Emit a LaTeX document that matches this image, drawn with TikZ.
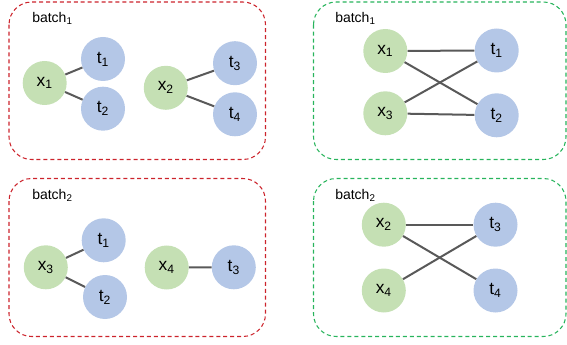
\documentclass[tikz,border=0pt]{standalone}
\usepackage{fontspec}
\setmainfont{Liberation Sans}
\definecolor{xgreen}{RGB}{197,224,180}
\definecolor{tblue}{RGB}{180,199,231}
\definecolor{boxred}{RGB}{204,36,44}
\definecolor{boxgreen}{RGB}{40,180,92}
\definecolor{edgegray}{RGB}{89,89,89}

\begin{document}
\begin{tikzpicture}[x=0.75pt,y=0.75pt,yscale=-1,xscale=1,
  xnode/.style={circle,fill=xgreen,minimum size=33pt,inner sep=0pt,font=\fontsize{13}{15}\selectfont},
  tnode/.style={circle,fill=tblue,minimum size=33pt,inner sep=0pt,font=\fontsize{13}{15}\selectfont},
  link/.style={draw=edgegray,line width=1.5pt},
  redbox/.style={draw=boxred,line width=0.8pt,dash pattern={on 3pt off 2.2pt},rounded corners=17pt},
  greenbox/.style={draw=boxgreen,line width=0.8pt,dash pattern={on 3pt off 2.2pt},rounded corners=17pt},
  batchlabel/.style={anchor=base west,inner sep=0pt,font=\fontsize{10.5}{12}\selectfont}]
\useasboundingbox (0,0) rectangle (567,345);

%Shape: Rectangle [id:box top left]
\draw [redbox] (9,2) rectangle (265.5,159.5) ;
%Shape: Rectangle [id:box top right]
\draw [greenbox] (313.5,2) rectangle (566,159.5) ;
%Shape: Rectangle [id:box bottom left]
\draw [redbox] (9,178.5) rectangle (265.5,336.5) ;
%Shape: Rectangle [id:box bottom right]
\draw [greenbox] (313.5,178.5) rectangle (566,336.5) ;

% Text Node
\node [batchlabel] (lblA) at (32,22.5) {batch\textsubscript{1}};
% Text Node
\node [batchlabel] (lblB) at (335,22.5) {batch\textsubscript{1}};
% Text Node
\node [batchlabel] (lblC) at (32,199.3) {batch\textsubscript{2}};
% Text Node
\node [batchlabel] (lblD) at (335,199.3) {batch\textsubscript{2}};

%Shape: Circle [id:top left]
\node [xnode] (ax1) at (44.7,83) {x\textsubscript{1}};
\node [tnode] (at1) at (103,59) {t\textsubscript{1}};
\node [tnode] (at2) at (103,108.7) {t\textsubscript{2}};
\node [xnode] (ax2) at (165.8,87.8) {x\textsubscript{2}};
\node [tnode] (at3) at (235,63.2) {t\textsubscript{3}};
\node [tnode] (at4) at (235,114.3) {t\textsubscript{4}};
%Shape: Circle [id:top right]
\node [xnode] (bx1) at (385.3,51) {x\textsubscript{1}};
\node [xnode] (bx3) at (385.3,113.3) {x\textsubscript{3}};
\node [tnode] (bt1) at (496.7,50.5) {t\textsubscript{1}};
\node [tnode] (bt2) at (496.7,115.3) {t\textsubscript{2}};
%Shape: Circle [id:bottom left]
\node [xnode] (cx3) at (45.8,267.3) {x\textsubscript{3}};
\node [tnode] (ct1) at (103.7,240.3) {t\textsubscript{1}};
\node [tnode] (ct2) at (105,297) {t\textsubscript{2}};
\node [xnode] (cx4) at (166.7,267.5) {x\textsubscript{4}};
\node [tnode] (ct3) at (233.8,267.3) {t\textsubscript{3}};
%Shape: Circle [id:bottom right]
\node [xnode] (dx2) at (383.8,224.7) {x\textsubscript{2}};
\node [xnode] (dx4) at (383.8,290.5) {x\textsubscript{4}};
\node [tnode] (dt3) at (495.5,224.7) {t\textsubscript{3}};
\node [tnode] (dt4) at (495.5,290.5) {t\textsubscript{4}};

%Straight Lines
\draw [link] (ax1) -- (at1) ;
\draw [link] (ax1) -- (at2) ;
\draw [link] (ax2) -- (at3) ;
\draw [link] (ax2) -- (at4) ;
%Straight Lines
\draw [link] (bx1) -- (bt1) ;
\draw [link] (bx1) -- (bt2) ;
\draw [link] (bx3) -- (bt1) ;
\draw [link] (bx3) -- (bt2) ;
%Straight Lines
\draw [link] (cx3) -- (ct1) ;
\draw [link] (cx3) -- (ct2) ;
\draw [link] (cx4) -- (ct3) ;
%Straight Lines
\draw [link] (dx2) -- (dt3) ;
\draw [link] (dx2) -- (dt4) ;
\draw [link] (dx4) -- (dt3) ;

\end{tikzpicture}
\end{document}
